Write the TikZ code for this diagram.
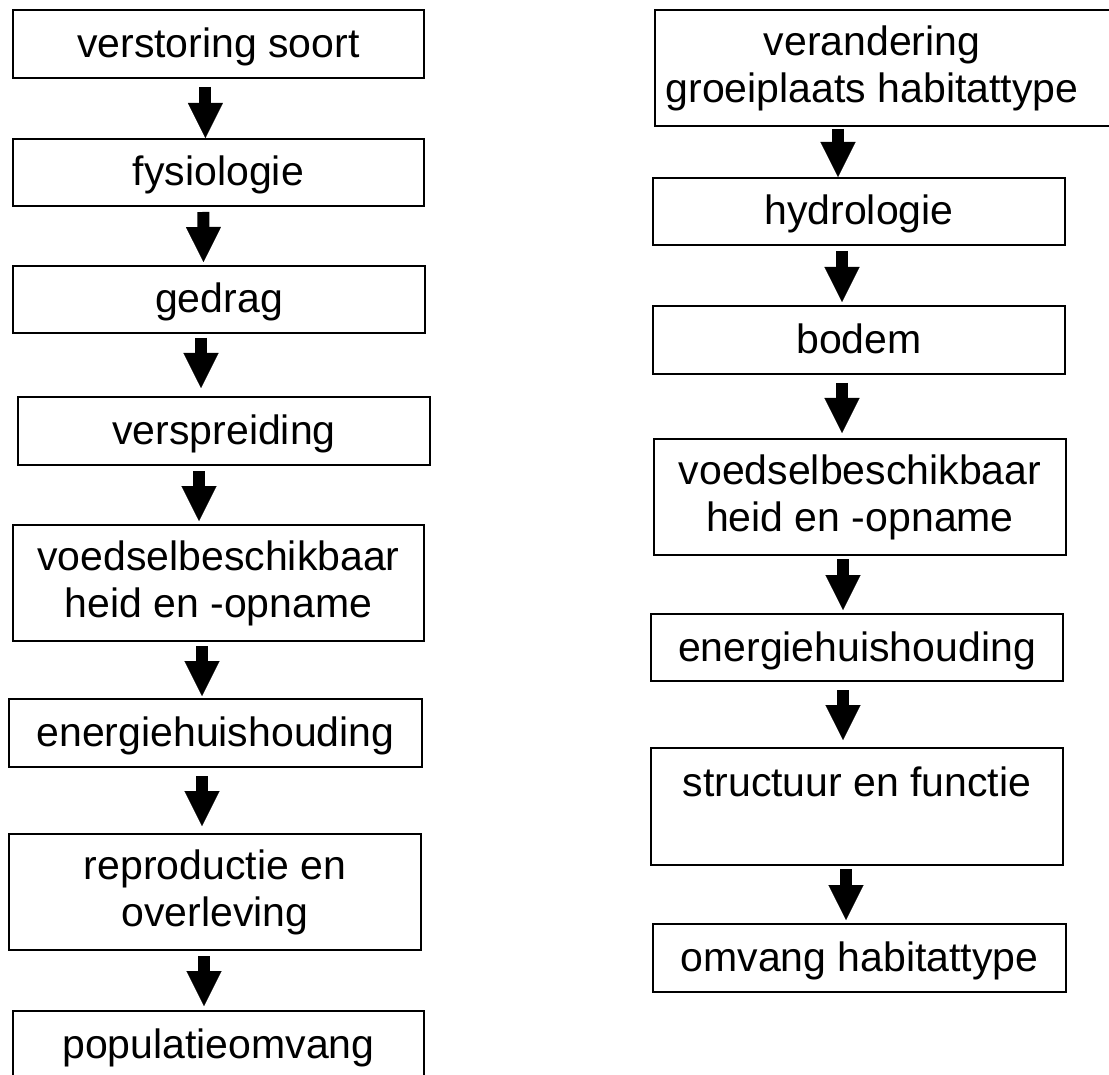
\documentclass[tikz,border=0pt]{standalone}
\usepackage{fontspec}
\setmainfont{Liberation Sans}
\usetikzlibrary{arrows.meta}
\tikzset{
  box/.style={draw, line width=2pt, rectangle, minimum width=411pt, inner sep=3pt,
              font=\fontsize{41}{47}\selectfont, align=center},
  oneline/.style={text height=37pt, text depth=10pt},
  barrow/.style={line width=12pt, -{Triangle[width=35pt,length=35pt,line width=0.1pt]}},
  outline/.style={line width=2pt}
}
\begin{document}
\begin{tikzpicture}[x=1pt,y=-1pt]
\useasboundingbox (0,0) rectangle (1109,1075);
\clip (0,0) rectangle (1109,1075);
\fill[white] (0,0) rectangle (1109,1075);

% left column
\node[box,oneline,minimum height=68pt] (l1) at (218.4,44) {verstoring soort};
\node[box,oneline,minimum height=67pt] (l2) at (218.4,172.5) {fysiologie};
\node[box,oneline,minimum height=67pt,minimum width=412pt] (l3) at (219,299.5) {gedrag};
\node[box,oneline,minimum height=68pt,minimum width=412pt] (l4) at (224,431) {verspreiding};
\node[box,minimum height=116pt] (l5) at (218.5,583) {voedselbeschikbaar\\heid en -opname};
\node[box,oneline,minimum height=68pt,minimum width=413pt] (l6) at (215.5,733) {energiehuishouding};
\node[box,minimum height=116pt,minimum width=412pt] (l7) at (215,892) {reproductie en\\overleving};
\node[box,oneline,minimum height=68pt] (l8) at (218.5,1045) {populatieomvang};

% right column
\node[box,draw=none,outer sep=0pt,minimum width=434pt,minimum height=116pt] (r1) at (872,68) {verandering\\groeiplaats habitattype};
\draw[outline] ([xshift=60pt]r1.north east) -- (r1.north west) -- (r1.south west) -- ([xshift=60pt]r1.south east);
\node[box,oneline,minimum width=412pt,minimum height=67pt] (r2) at (859,211.5) {hydrologie};
\node[box,oneline,minimum width=412pt,minimum height=68pt] (r3) at (859,340) {bodem};
\node[box,minimum width=412pt,minimum height=116pt] (r4) at (860,497) {voedselbeschikbaar\\heid en -opname};
\node[box,oneline,minimum width=412pt,minimum height=67pt] (r5) at (857,647.5) {energiehuishouding};
\node[box,minimum width=412pt,minimum height=117pt,text height=37pt,text depth=58pt] (r6) at (857,806.5) {structuur en functie};
\node[box,oneline,minimum width=413pt,minimum height=68pt] (r7) at (859.5,958) {omvang habitattype};

% left arrows
\draw[barrow] ([xshift=-13pt,yshift=-8pt]l1.south) -- ([xshift=-13pt,yshift=0pt]l2.north);
\draw[barrow] ([xshift=-15pt,yshift=-5pt]l2.south) -- ([xshift=-15.5pt,yshift=3pt]l3.north);
\draw[barrow] ([xshift=-18pt,yshift=-4pt]l3.south) -- ([xshift=-23pt,yshift=8pt]l4.north);
\draw[barrow] ([xshift=-25pt,yshift=-5pt]l4.south) -- ([xshift=-19.5pt,yshift=3pt]l5.north);
\draw[barrow] ([xshift=-16.5pt,yshift=-4pt]l5.south) -- ([xshift=-13.5pt,yshift=2pt]l6.north);
\draw[barrow] ([xshift=-13.5pt,yshift=-8pt]l6.south) -- ([xshift=-13pt,yshift=7pt]l7.north);
\draw[barrow] ([xshift=-11pt,yshift=-5pt]l7.south) -- ([xshift=-14.5pt,yshift=4pt]l8.north);

% right arrows
\draw[barrow] ([xshift=-34pt,yshift=-3pt]r1.south) -- ([xshift=-21pt,yshift=0pt]r2.north);
\draw[barrow] ([xshift=-17pt,yshift=-5pt]r2.south) -- ([xshift=-17pt,yshift=3pt]r3.north);
\draw[barrow] ([xshift=-17pt,yshift=-8pt]r3.south) -- ([xshift=-18pt,yshift=5pt]r4.north);
\draw[barrow] ([xshift=-17pt,yshift=-3pt]r4.south) -- ([xshift=-14pt,yshift=3pt]r5.north);
\draw[barrow] ([xshift=-14pt,yshift=-8pt]r5.south) -- ([xshift=-14pt,yshift=7pt]r6.north);
\draw[barrow] ([xshift=-11pt,yshift=-3pt]r6.south) -- ([xshift=-13.5pt,yshift=3pt]r7.north);
\end{tikzpicture}
\end{document}
